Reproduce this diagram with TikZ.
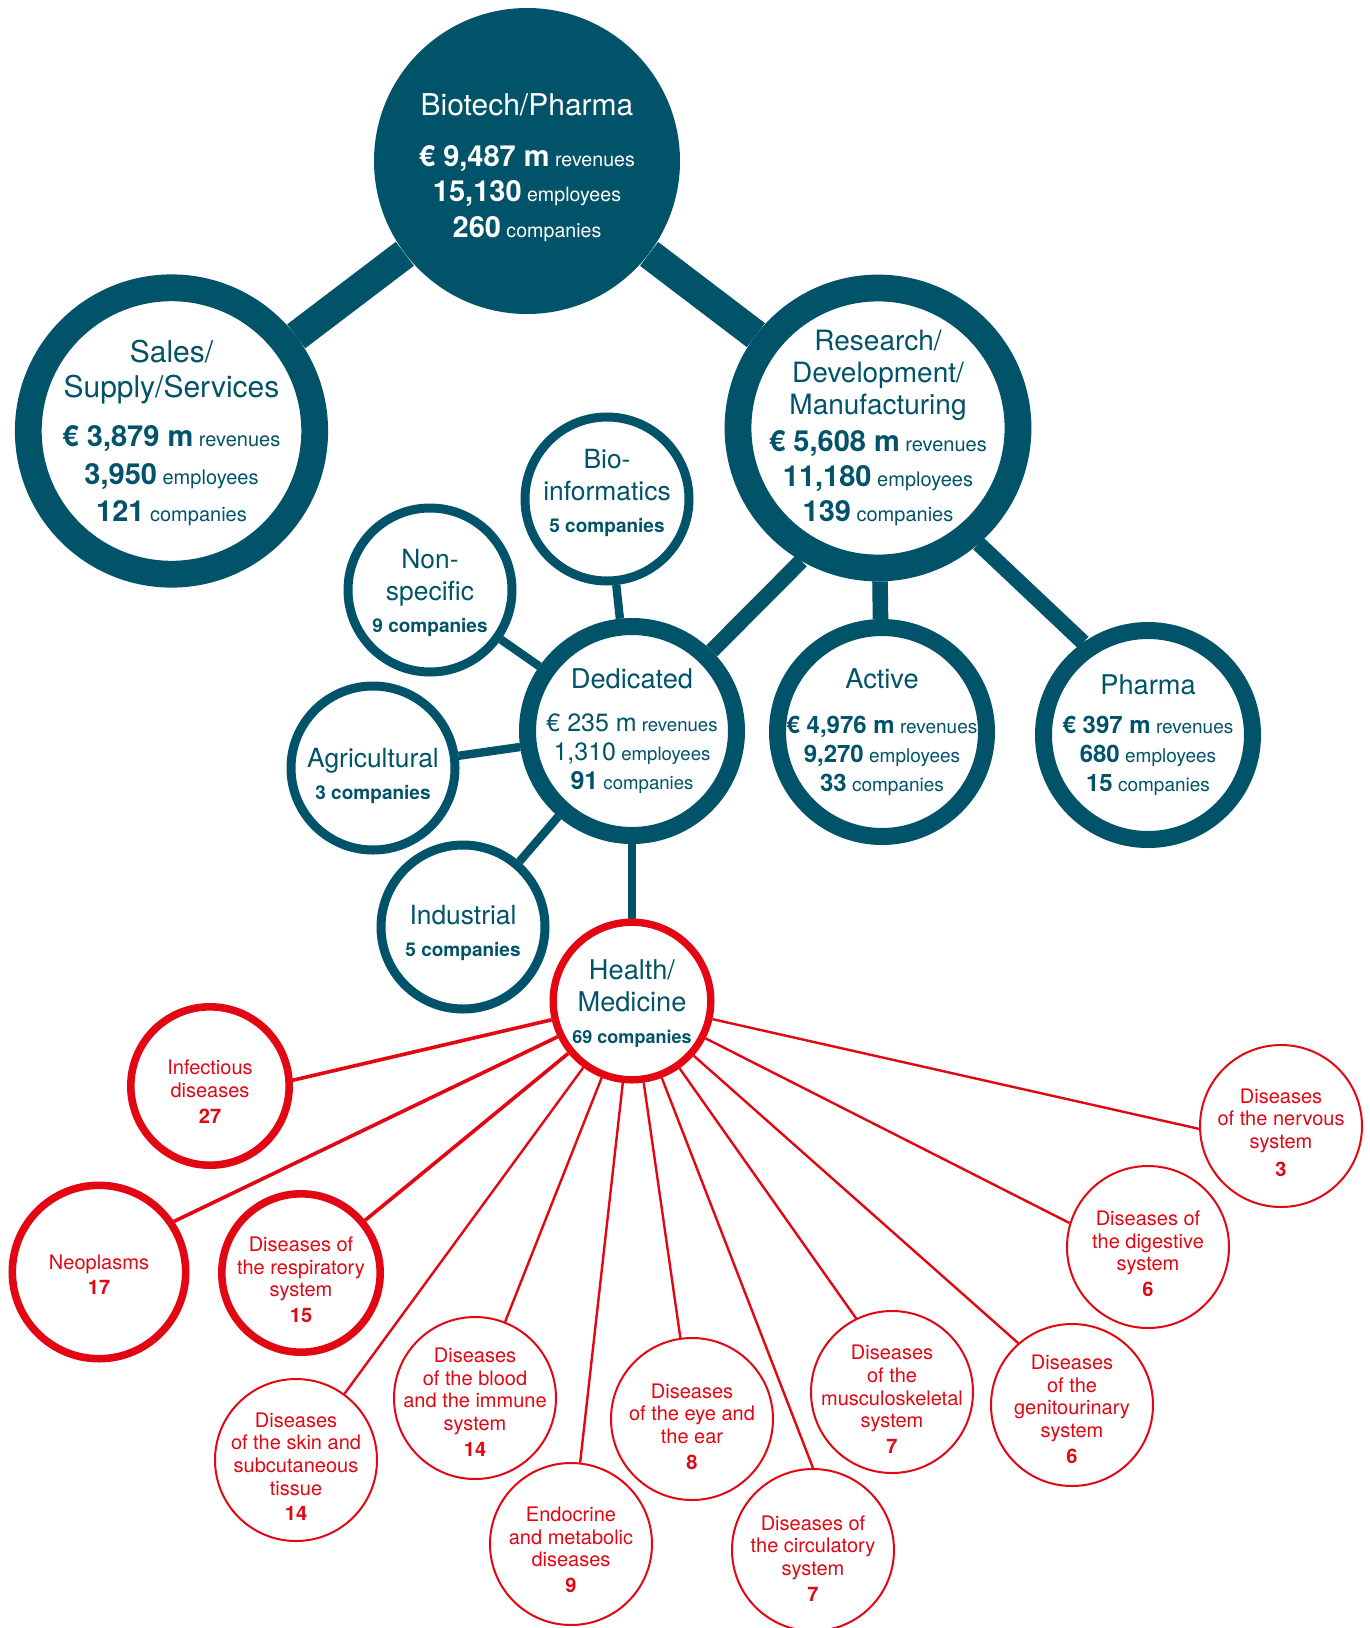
\documentclass[tikz,border=0pt]{standalone}
\usepackage{fontspec}
\setmainfont{TeX Gyre Heros}
\usetikzlibrary{backgrounds}

\definecolor{petrol}{RGB}{0,83,105}
\definecolor{signalred}{RGB}{227,6,19}

% text sizes
\newcommand{\bigttl}{\fontsize{15}{18}\selectfont}
\newcommand{\midttl}{\fontsize{13.6}{16}\selectfont}
\newcommand{\smallttl}{\fontsize{13.2}{16}\selectfont}
\newcommand{\bignum}[1]{{\fontsize{14.5}{18}\selectfont\bfseries #1}}
\newcommand{\midnum}[1]{{\fontsize{12}{14.5}\selectfont\bfseries #1}}
\newcommand{\midnumr}[1]{{\fontsize{12.5}{14.5}\selectfont #1}}
% invisible height on the first line, pushes the text block down
\newcommand{\topgap}[1]{\rule{0pt}{#1}}

\begin{document}
\begin{tikzpicture}[x=0.5pt,y=-0.5pt,
    bubble/.style={circle,inner sep=-15pt,align=center,fill=white},
    lift/.style={execute at end node={\rule[-#1]{0pt}{0pt}}},
    hub/.style={bubble,fill=petrol,text=white,minimum size=153pt},
    branch/.style={bubble,draw=petrol,text=petrol,line width=13.4pt},
    sector/.style={bubble,draw=petrol,text=petrol,line width=8.5pt,minimum size=104.5pt},
    niche/.style={bubble,draw=petrol,text=petrol,line width=4.5pt,minimum size=82pt,
      font=\fontsize{9.5}{16}\selectfont},
    healthring/.style={bubble,draw=signalred,text=petrol,line width=3.7pt,minimum size=78.8pt,
      font=\fontsize{9}{16}\selectfont},
    disease/.style={bubble,draw=signalred,text=signalred,line width=1pt,minimum size=81pt,
      font=\fontsize{10}{11.3}\selectfont},
    bigdisease/.style={disease,line width=3.8pt,minimum size=79.2pt},
    trunk/.style={petrol,line width=15pt},
    limb/.style={petrol,line width=7.8pt},
    twig/.style={petrol,line width=4.2pt},
    vein/.style={signalred,line width=1.2pt},
    thickvein/.style={vein,line width=1.8pt}]

\useasboundingbox (0,0) rectangle (1370,1628);

% top level
\node[hub,font=\fontsize{9.8}{17.9}\selectfont] (bp) at (527,161)
  {\topgap{17.6pt}{\bigttl Biotech/Pharma}\\[7.5pt]
   \bignum{€ 9,487 m} revenues\\
   \bignum{15,130} employees\\
   \bignum{260} companies};
\node[branch,minimum size=143.2pt,font=\fontsize{10}{18.8}\selectfont] (sales) at (171.5,431)
  {\topgap{13.4pt}{\bigttl Sales/}\\[-1.2pt]
   {\bigttl Supply/Services}\\[5.6pt]
   \bignum{€ 3,879 m} revenues\\
   \bignum{3,950} employees\\
   \bignum{121} companies};
\node[branch,minimum size=140pt,font=\fontsize{10}{17.6}\selectfont] (rnd) at (878,428)
  {{\fontsize{14}{18}\selectfont Research/}\\[-1.6pt]
   {\fontsize{14}{18}\selectfont Development/}\\[-1.6pt]
   {\fontsize{14}{18}\selectfont Manufacturing}\\[1.1pt]
   \bignum{€ 5,608 m} revenues\\
   \bignum{11,180} employees\\
   \bignum{139} companies};

% second level
\node[sector,font=\fontsize{9.3}{14.5}\selectfont] (ded) at (632,731)
  {{\midttl Dedicated}\\[7.3pt]
   \midnumr{€ 235 m} revenues\\
   \midnumr{1,310} employees\\
   {\fontsize{12.5}{14.5}\selectfont\bfseries 91} companies};
\node[sector,font=\fontsize{9.5}{14.5}\selectfont] (act) at (882,732)
  {{\midttl Active}\\[7.8pt]
   \midnum{€ 4,976 m} revenues\\
   \midnum{9,270} employees\\
   \midnum{33} companies};
\node[sector,font=\fontsize{9.5}{14.5}\selectfont] (pha) at (1148,735)
  {{\midttl Pharma}\\[4.7pt]
   \midnum{€ 397 m} revenues\\
   \midnum{680} employees\\
   \midnum{15} companies};

% dedicated fields
\node[niche,lift=7.7pt] (bioinf) at (607,499)
  {{\smallttl Bio-}\\{\smallttl informatics}\\{\bfseries 5 companies}};
\node[niche] (nonspec) at (430,590)
  {\topgap{12.6pt}{\smallttl Non-}\\{\smallttl specific}\\{\bfseries 9 companies}};
\node[niche] (agri) at (373,768)
  {\topgap{17.8pt}{\smallttl Agricultural}\\{\bfseries 3 companies}};
\node[niche] (indus) at (463,927)
  {\topgap{15.2pt}{\smallttl Industrial}\\{\bfseries 5 companies}};
\node[healthring] (health) at (632,1001)
  {\topgap{12.1pt}{\midttl Health/}\\{\midttl Medicine}\\{\bfseries 69 companies}};

% disease groups
\node[bigdisease] (infect) at (210,1086)
  {\topgap{13pt}Infectious\\diseases\\[1.6pt]{\bfseries 27}};
\node[bigdisease,minimum size=86.7pt] (neopl) at (99,1272)
  {\topgap{9.9pt}Neoplasms\\[1.6pt]{\bfseries 17}};
\node[bigdisease] (resp) at (301,1273)
  {\topgap{14.1pt}Diseases of\\the respiratory\\system\\[1.6pt]{\bfseries 15}};
\node[disease] (skin) at (296,1460)
  {\topgap{14.1pt}Diseases\\of the skin and\\subcutaneous\\tissue\\[1.6pt]{\bfseries 14}};
\node[disease] (blood) at (475,1398)
  {\topgap{11.5pt}Diseases\\of the blood\\and the immune\\system\\[1.6pt]{\bfseries 14}};
\node[disease] (endo) at (571,1544)
  {\topgap{13pt}Endocrine\\and metabolic\\diseases\\[1.6pt]{\bfseries 9}};
\node[disease] (eye) at (692,1419)
  {\topgap{14.6pt}Diseases\\of the eye and\\the ear\\[1.6pt]{\bfseries 8}};
\node[disease] (circ) at (813,1550)
  {\topgap{15.6pt}Diseases of\\the circulatory\\system\\[1.6pt]{\bfseries 7}};
\node[disease] (musc) at (892,1392)
  {\topgap{14.6pt}Diseases\\of the\\musculoskeletal\\system\\[1.6pt]{\bfseries 7}};
\node[disease] (genito) at (1072,1405)
  {\topgap{11.5pt}Diseases\\of the\\genitourinary\\system\\[1.6pt]{\bfseries 6}};
\node[disease] (digest) at (1148,1247)
  {\topgap{14.1pt}Diseases of\\the digestive\\system\\[1.6pt]{\bfseries 6}};
\node[disease] (nerv) at (1281,1126)
  {\topgap{14.1pt}Diseases\\of the nervous\\system\\[3pt]{\bfseries 3}};

% connectors
\begin{scope}[on background layer]
  \draw[trunk] (bp) -- (sales);
  \draw[trunk] (bp) -- (rnd);
  \draw[limb] (rnd.240) -- (ded);
  \draw[limb] (rnd) -- (act);
  \draw[limb] (rnd.-49) -- (pha.125);
  \draw[twig] (ded) -- (bioinf);
  \draw[twig] (ded) -- (nonspec);
  \draw[twig] (ded) -- (agri);
  \draw[twig] (ded) -- (indus);
  \draw[twig] (ded) -- (health);
  \draw[thickvein] (health) -- (infect.4);
  \draw[thickvein] (health) -- (neopl.34);
  \draw[thickvein] (health) -- (resp);
  \draw[vein] (health) -- (skin);
  \draw[vein] (health) -- (blood);
  \draw[vein] (health) -- (endo);
  \draw[vein] (health) -- (eye);
  \draw[vein] (health) -- (circ.north);
  \draw[vein] (health) -- (musc.116);
  \draw[vein] (health) -- (genito.131);
  \draw[vein] (health) -- (digest.163);
  \draw[vein] (health) -- (nerv.182);
\end{scope}
\end{tikzpicture}
\end{document}
